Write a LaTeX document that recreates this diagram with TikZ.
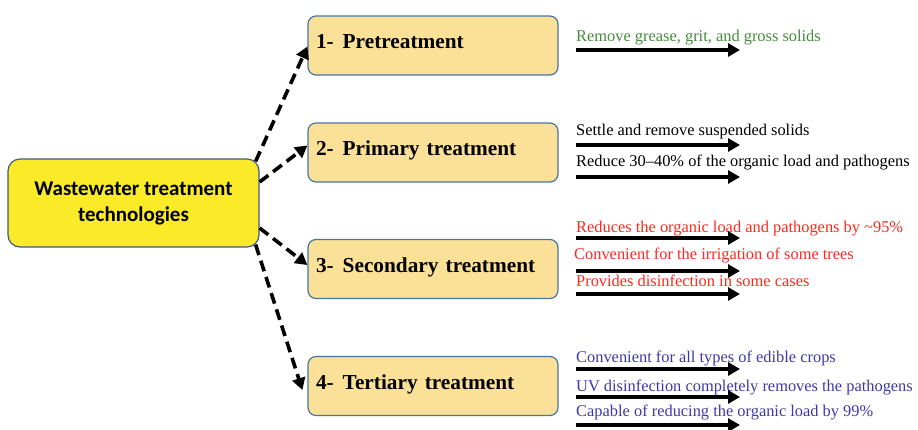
\documentclass[tikz,border=0pt]{standalone}
\usepackage{fontspec}
\setmainfont{Liberation Serif}
\newfontfamily\calibfont{Carlito}
\usetikzlibrary{arrows.meta}

\definecolor{boxfill}{RGB}{251,225,152}
\definecolor{boxline}{RGB}{70,118,165}
\definecolor{mainfill}{RGB}{250,234,40}
\definecolor{mainline}{RGB}{62,92,122}
\definecolor{pregreen}{RGB}{70,138,60}
\definecolor{secred}{RGB}{255,40,30}
\definecolor{terblue}{RGB}{62,56,168}

\begin{document}
\begin{tikzpicture}[x=1pt,y=-1pt,>={Triangle[length=12pt,width=13pt]},
                    line join=miter]
  \tikzstyle{stage}=[draw=boxline,fill=boxfill,line width=1.2pt,rounded corners=8pt,
                     minimum height=59pt,text width=234pt,inner xsep=8pt,align=left,
                     text height=14pt,text depth=8pt,
                     font=\bfseries\fontsize{21.3}{24}\selectfont]
  \tikzstyle{effect}=[anchor=west,inner sep=0pt,text height=12pt,text depth=4pt,
                      font=\fontsize{16.4}{18}\selectfont]
  \tikzstyle{dasharrow}=[->,line width=3.6pt,dash pattern=on 11pt off 6pt]
  \tikzstyle{effarrow}=[->,line width=4pt]

  \useasboundingbox (0,0) rectangle (918,429);

  \node[draw=mainline,fill=mainfill,line width=1.2pt,rounded corners=12pt,
        minimum width=251pt,minimum height=88pt,align=center,
        font=\calibfont\bfseries\fontsize{21}{26}\selectfont]
        (tech) at (133.5,203) {Wastewater treatment\\technologies};

  \node[stage] (pre)  at (433,45.5) {1-\hspace{9pt}Pretreatment};
  \node[stage] (prim) at (433,152.5) {2-\hspace{9pt}Primary treatment};
  \node[stage] (sec)  at (433,269) {3-\hspace{9pt}Secondary treatment};
  \node[stage] (ter)  at (433,386) {4-\hspace{9pt}Tertiary treatment};

  \path[dasharrow] ([xshift=-4pt,yshift=-3pt]tech.north east) edge ([yshift=-1pt]pre.west)
                   ([yshift=21pt]tech.east)       edge ([yshift=7pt]prim.west)
                   ([yshift=-25pt]tech.east)      edge ([yshift=4pt]sec.west)
                   ([xshift=-4pt,yshift=3pt]tech.south east) edge ([xshift=-5pt,yshift=-4pt]ter.west);

  % what each stage does
  \node[effect,text=pregreen] (pre1) at (576,37) {Remove grease, grit, and gross solids};
  \node[effect] (prim1) at (576,131) {Settle and remove suspended solids};
  \node[effect] (prim2) at (576,162) {Reduce 30--40\% of the organic load and pathogens};
  \node[effect,text=secred] (sec1) at (576,228) {Reduces the organic load and pathogens by \textasciitilde95\%};
  \node[effect,text=secred] (sec2) at (574,255) {Convenient for the irrigation of some trees};
  \node[effect,text=secred] (sec3) at (576,282) {Provides disinfection in some cases};
  \node[effect,text=terblue] (ter1) at (576,358) {Convenient for all types of edible crops};
  \node[effect,text=terblue] (ter2) at (576,387) {UV disinfection completely removes the pathogens};
  \node[effect,text=terblue] (ter3) at (576,412) {Capable of reducing the organic load by 99\%};

  \foreach \n/\y in {pre1/50,prim1/145,prim2/177,sec1/238,sec2/271,sec3/294,
                     ter1/369,ter2/397,ter3/425} {
    \coordinate (s-\n) at (576,\y);
    \coordinate (e-\n) at (740,\y);
    \draw[effarrow] (s-\n) -- (e-\n);
  }
\end{tikzpicture}
\end{document}
